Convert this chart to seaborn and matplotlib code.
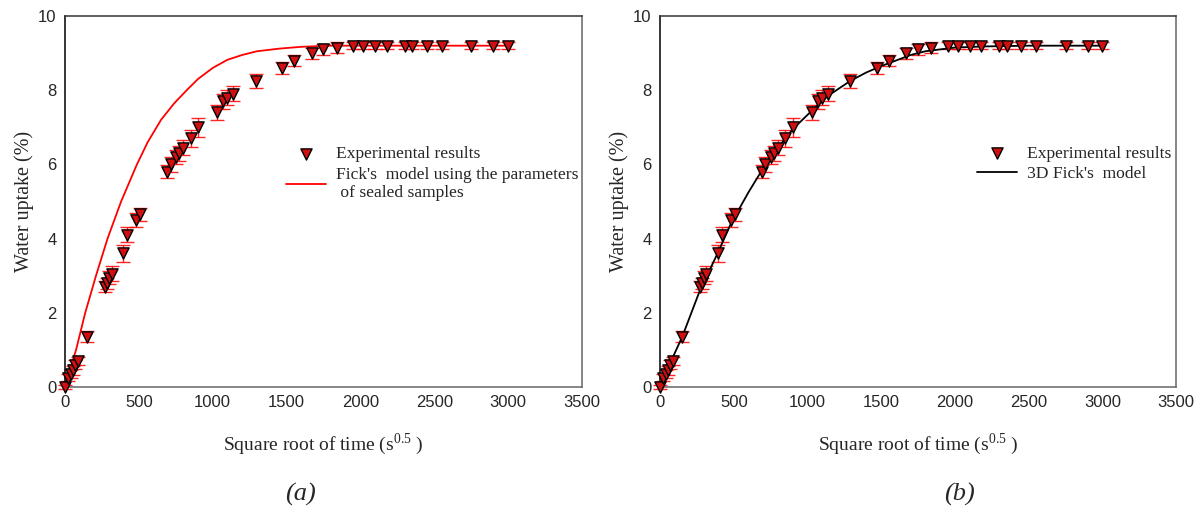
import numpy as np
import pandas as pd
import seaborn as sns
import matplotlib.pyplot as plt

# experimental water uptake (same data in both panels)
sqrt_time = [0, 20, 40, 55, 70, 85, 150, 270, 285, 300, 315, 390, 420, 480, 510,
             690, 715, 750, 770, 800, 850, 900, 1030, 1070, 1100, 1140, 1290,
             1470, 1550, 1670, 1750, 1840, 1950, 2020, 2100, 2180, 2300, 2350,
             2450, 2550, 2750, 2900, 3000]
uptake = [0.0, 0.25, 0.35, 0.45, 0.6, 0.7, 1.35, 2.7, 2.8, 2.95, 3.05, 3.6, 4.1,
          4.5, 4.65, 5.8, 6.0, 6.2, 6.3, 6.45, 6.7, 7.0, 7.4, 7.7, 7.8, 7.9, 8.25,
          8.6, 8.8, 9.0, 9.1, 9.15, 9.2, 9.2, 9.2, 9.2, 9.2, 9.2, 9.2, 9.2, 9.2,
          9.2, 9.2]
uptake_err = [0.05, 0.1, 0.12, 0.12, 0.12, 0.12, 0.15, 0.15, 0.15, 0.18, 0.2,
              0.22, 0.2, 0.18, 0.18, 0.18, 0.2, 0.2, 0.2, 0.2, 0.22, 0.25, 0.2,
              0.2, 0.2, 0.2, 0.18, 0.15, 0.15, 0.15, 0.15, 0.15, 0.1, 0.1, 0.1,
              0.1, 0.1, 0.1, 0.1, 0.1, 0.1, 0.1, 0.1]

# Fick's model with sealed-sample parameters (panel a)
fick_x = [0, 20, 40, 75, 137, 210, 288, 380, 487, 560, 650, 740, 824, 900, 1000,
          1100, 1200, 1300, 1450, 1600, 1800, 2200, 3000]
fick_y = [0.0, 0.3, 0.55, 1.0, 2.0, 3.0, 4.0, 5.0, 6.0, 6.6, 7.2, 7.65, 8.0, 8.3,
          8.6, 8.82, 8.95, 9.05, 9.12, 9.17, 9.2, 9.2, 9.2]

# 3D Fick's model (panel b)
fick3d_x = [0, 75, 150, 270, 390, 480, 600, 700, 800, 900, 1030, 1140, 1290, 1400,
            1500, 1600, 1700, 1800, 1900, 2000, 2200, 2500, 3000]
fick3d_y = [0.0, 0.7, 1.35, 2.6, 3.6, 4.4, 5.25, 5.9, 6.45, 6.95, 7.45, 7.85, 8.25,
            8.48, 8.65, 8.8, 8.95, 9.05, 9.1, 9.15, 9.18, 9.2, 9.2]

exp_df = pd.DataFrame({"x": sqrt_time, "y": uptake, "err": uptake_err})

sns.set_style("white")
plt.rcParams["font.family"] = ["Liberation Serif", "DejaVu Serif"]

fig = plt.figure(figsize=(11.99, 5.08), dpi=100)
ax_a = fig.add_axes([0.0542, 0.2382, 0.4312, 0.7303])
ax_b = fig.add_axes([0.5505, 0.2382, 0.4304, 0.7303])

panels = [
    (ax_a, fick_x, fick_y, "red",
     "Fick's  model using the parameters\n of sealed samples", (0.413, 0.668),
     "(a)", 0.455),
    (ax_b, fick3d_x, fick3d_y, "black", "3D Fick's  model", (0.60, 0.67),
     "(b)", 0.58),
]

for ax, mx, my, mcolor, mlabel, leg_pos, tag, tag_x in panels:
    ax.errorbar(exp_df["x"], exp_df["y"], yerr=exp_df["err"], fmt="none",
                ecolor="red", elinewidth=1.0, capsize=5, capthick=1.0,
                alpha=0.85, zorder=2, clip_on=False)
    sns.scatterplot(data=exp_df, x="x", y="y", ax=ax, marker="v", s=65,
                    color="#d01010", edgecolor="black", linewidth=1.0,
                    zorder=3, clip_on=False, label="Experimental results")
    model_df = pd.DataFrame({"x": mx, "y": my})
    sns.lineplot(data=model_df, x="x", y="y", ax=ax, color=mcolor,
                 linewidth=1.3, zorder=2.5, label=mlabel)

    ax.set_xlim(0, 3500)
    ax.set_ylim(0, 10)
    ax.set_xticks(np.arange(0, 3501, 500))
    ax.set_yticks(np.arange(0, 11, 2))
    ax.tick_params(direction="in", length=5, width=1, color="black",
                   labelsize=12, pad=6)
    for lab in ax.get_xticklabels() + ax.get_yticklabels():
        lab.set_family(["Liberation Sans", "DejaVu Sans"])
    ax.spines["left"].set_color("black")
    ax.spines["top"].set_color("#333333")
    ax.spines["bottom"].set_color("#666666")
    ax.spines["right"].set_color("#666666")
    for sp in ax.spines.values():
        sp.set_linewidth(1.1)

    ax.set_xlabel(r"Square root of time (s$^{\mathregular{0.5}}$ )",
                  fontsize=14, labelpad=15)
    ax.set_ylabel("Water uptake (%)", fontsize=14.5, labelpad=3)
    ax.text(tag_x, -0.29, tag, transform=ax.transAxes,
            fontsize=19, style="italic", ha="center", va="center")

    ax.legend(loc="upper left", bbox_to_anchor=leg_pos, frameon=False,
              fontsize=12.6, handlelength=2.3, handletextpad=0.6,
              labelspacing=0.25, borderaxespad=0)

fig.savefig("out.png", dpi=100)
